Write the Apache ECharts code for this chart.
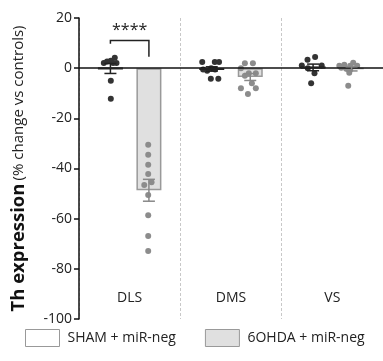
<!DOCTYPE html>
<html><head><meta charset="utf-8">
<script src="https://cdn.jsdelivr.net/npm/echarts@6/dist/echarts.min.js"></script>
<style>html,body{margin:0;padding:0;background:#fff}#c{width:383px;height:361px}</style>
</head><body><div id="c"></div>
<script>
const categories = ['DLS', 'DMS', 'VS'];
const groups = ['SHAM + miR-neg', '6OHDA + miR-neg'];
const yTicks = [-100, -80, -60, -40, -20, 0, 20];

// individual points: values and horizontal jitter (category units)
const shamDLS  = [2.1, 2.7, 3, 4.2, 2.1, 2.1, -5, -12.2];
const shamDLSx = [0.245, 0.277, 0.314, 0.353, 0.370, 0.336, 0.314, 0.314];
const ohdaDLS  = [-30.5, -34.5, -38.5, -42.2, -46.6, -45.5, -50.6, -58.6, -66.9, -72.9];
const ohdaDLSx = [0.683, 0.683, 0.683, 0.683, 0.644, 0.716, 0.683, 0.683, 0.683, 0.683];
const shamDMS  = [2.5, 2.5, 2.5, -0.5, -1, 0, -0.5, -4.2, -4.2];
const shamDMSx = [1.216, 1.340, 1.382, 1.225, 1.265, 1.304, 1.343, 1.301, 1.375];
const ohdaDMS  = [2, 2, 0, -2, -2, -3, -6, -8, -8, -10.3];
const ohdaDMSx = [1.637, 1.716, 1.598, 1.676, 1.745, 1.637, 1.706, 1.598, 1.745, 1.667];
const shamVS   = [4.5, 3.4, 1.1, 1.1, 0, -2, -6];
const shamVSx  = [2.330, 2.255, 2.199, 2.395, 2.258, 2.324, 2.291];
const ohdaVS   = [1, 1.4, 1, 2.2, 1, -0.2, -0.6, -1.8, -7, 0.2];
const ohdaVSx  = [2.569, 2.618, 2.676, 2.706, 2.745, 2.637, 2.676, 2.667, 2.657, 2.588];

// significance bracket (value units)
const sigLabel = '****';
const sigTop = 11, sigLeftEnd = 9.7, sigRightEnd = 4.6, sigText = 15.2;

const FONT = '"Open Sans", "Noto Sans", sans-serif';
const BAR_W = 25, BAR_OFF = 19.25;
const shamSets = [shamDLS, shamDMS, shamVS];
const ohdaSets = [ohdaDLS, ohdaDMS, ohdaVS];
const mean = a => a.reduce((s, v) => s + v, 0) / a.length;
const sem = a => { const m = mean(a); return Math.sqrt(a.reduce((s, v) => s + (v - m) * (v - m), 0) / (a.length - 1)) / Math.sqrt(a.length); };
const shamMeans = shamSets.map(mean), ohdaMeans = ohdaSets.map(mean);
const shamSem = shamSets.map(sem), ohdaSem = ohdaSets.map(sem);
const zip = (xs, ys) => xs.map((x, i) => [x, ys[i]]);

const DARK = '#333', LIGHT = '#8c8c8c';

function errRender(means, sems, side, color, drawMean) {
  return function (params, api) {
    const i = params.dataIndex;
    const cx = api.coord([i + 0.5, 0])[0] + side * BAR_OFF;
    const yM = api.coord([0, means[i]])[1];
    const yL = api.coord([0, means[i] - sems[i]])[1];
    const yH = api.coord([0, means[i] + sems[i]])[1];
    const st = { stroke: color, lineWidth: 1.5, fill: null };
    const ch = [
      { type: 'line', shape: { x1: cx, y1: yL, x2: cx, y2: yH }, style: st },
      { type: 'line', shape: { x1: cx - 6, y1: yL, x2: cx + 6, y2: yL }, style: st },
      { type: 'line', shape: { x1: cx - 6, y1: yH, x2: cx + 6, y2: yH }, style: st }
    ];
    if (drawMean) ch.push({ type: 'line', shape: { x1: cx - BAR_W / 2, y1: yM, x2: cx + BAR_W / 2, y2: yM }, style: { stroke: color, lineWidth: 2 } });
    return { type: 'group', children: ch };
  };
}

const chart = echarts.init(document.getElementById('c'), null, { renderer: 'canvas' });
chart.setOption({
  animation: false,
  textStyle: { fontFamily: FONT },
  grid: { left: 79, right: -2, top: 18, bottom: 42, containLabel: false },
  legend: {
    left: 20, top: 324, itemWidth: 34, itemHeight: 17, itemGap: 29, icon: 'rect',
    textStyle: { fontSize: 14, color: '#222', fontFamily: FONT, padding: [0, 0, 0, 3] },
    data: [
      { name: groups[0], itemStyle: { color: '#fff', borderColor: '#999', borderWidth: 1 } },
      { name: groups[1], itemStyle: { color: '#e0e0e0', borderColor: '#999', borderWidth: 1 } }
    ]
  },
  xAxis: [
    {
      type: 'category', data: categories, boundaryGap: true,
      axisLine: { show: false }, axisTick: { show: false },
      axisLabel: { margin: -28, fontSize: 14, color: '#222', fontFamily: FONT },
      splitLine: { show: true, lineStyle: { color: '#c8c8c8', type: [3, 2], width: 1 } }
    },
    { type: 'value', min: 0, max: 3, show: false }
  ],
  yAxis: {
    type: 'value', min: yTicks[0], max: yTicks[yTicks.length - 1], interval: 20,
    axisLine: { show: true, lineStyle: { color: '#111', width: 1.5 } },
    axisTick: { show: true, length: 5, lineStyle: { color: '#111', width: 1.5 } },
    axisLabel: { fontSize: 14, color: '#222', margin: 7, fontFamily: FONT },
    splitLine: { show: false },
    name: '{b|Th expression} {n|(% change vs controls)}',
    nameLocation: 'middle', nameRotate: 90, nameGap: 51,
    nameTextStyle: {
      rich: {
        b: { fontSize: 18.5, fontWeight: 'bold', color: '#111', fontFamily: FONT },
        n: { fontSize: 15, color: '#222', fontFamily: FONT }
      }
    }
  },
  series: [
    {
      name: groups[0], type: 'bar', data: shamMeans, barWidth: BAR_W, barGap: '54%',
      itemStyle: { color: '#fff', borderColor: '#444', borderWidth: 1 }, z: 2,
      markLine: {
        silent: true, symbol: 'none', label: { show: false },
        lineStyle: { color: '#111', width: 1.5, type: 'solid' },
        data: [{ yAxis: 0 }]
      }
    },
    {
      name: groups[1], type: 'bar', data: ohdaMeans, barWidth: BAR_W,
      itemStyle: { color: '#e0e0e0', borderColor: '#999', borderWidth: 1.5 }, z: 2
    },
    { type: 'scatter', xAxisIndex: 1, data: zip(shamDLSx, shamDLS).concat(zip(shamDMSx, shamDMS), zip(shamVSx, shamVS)), symbolSize: 6, itemStyle: { color: DARK, opacity: 1 }, z: 4 },
    { type: 'scatter', xAxisIndex: 1, data: zip(ohdaDLSx, ohdaDLS).concat(zip(ohdaDMSx, ohdaDMS), zip(ohdaVSx, ohdaVS)), symbolSize: 6, itemStyle: { color: LIGHT, opacity: 1 }, z: 4 },
    { type: 'custom', xAxisIndex: 1, data: [0, 1, 2], renderItem: errRender(shamMeans, shamSem, -1, '#222', true), z: 5 },
    { type: 'custom', xAxisIndex: 1, data: [0, 1, 2], renderItem: errRender(ohdaMeans, ohdaSem, 1, '#888', false), z: 5 },
    {
      type: 'custom', xAxisIndex: 1, data: [0], z: 6,
      renderItem: function (params, api) {
        const c = api.coord([0.5, 0])[0];
        const x1 = c - BAR_OFF, x2 = c + BAR_OFF;
        const yT = api.coord([0, sigTop])[1];
        const yL = api.coord([0, sigLeftEnd])[1];
        const yR = api.coord([0, sigRightEnd])[1];
        const yS = api.coord([0, sigText])[1];
        return { type: 'group', children: [
          { type: 'polyline', shape: { points: [[x1, yL], [x1, yT], [x2, yT], [x2, yR]] }, style: { stroke: '#222', lineWidth: 1.5, fill: null } },
          { type: 'text', style: { text: sigLabel, x: (x1 + x2) / 2, y: yS, align: 'center', verticalAlign: 'middle', fontSize: 16, fontWeight: 'normal', fill: '#222', fontFamily: FONT } }
        ] };
      }
    }
  ]
});
</script></body></html>
